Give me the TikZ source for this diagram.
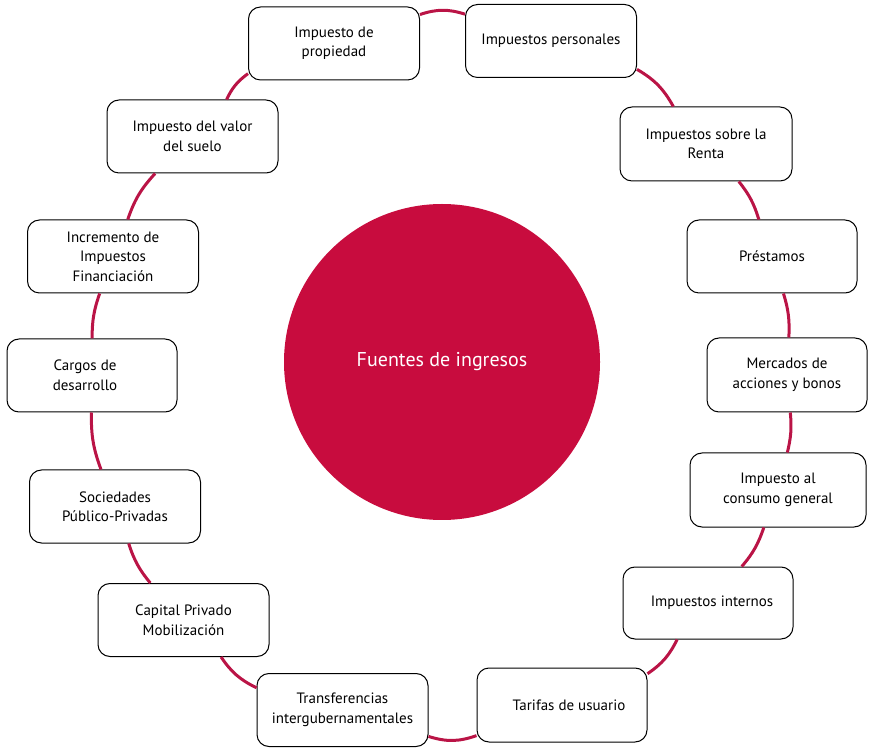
\documentclass[tikz,border=0pt]{standalone}
\usepackage{fontspec}
\setmainfont{PT Sans}
\definecolor{crim}{RGB}{200,12,62}
\definecolor{ringc}{RGB}{186,20,70}
\begin{document}
\begin{tikzpicture}[x=1pt,y=1pt,
  box/.style={draw=black, line width=1pt, fill=white, rounded corners=12pt,
    minimum width=171pt, minimum height=73pt, align=center,
    font=\fontsize{15}{19.5}\selectfont, inner sep=2pt},
  ring/.style={draw=ringc, line width=3pt}]
\useasboundingbox (0,0) rectangle (869,747);
\node[circle, fill=crim, minimum size=316pt, inner sep=0pt, text=white,
  font=\fontsize{20}{24}\selectfont] (c) at (442,385) {Fuentes de ingresos};
\node[box] (n1) at (334,703.5) {Impuesto de\\propiedad};
\node[box] (n2) at (551,706) {Impuestos personales};
\node[box] (n3) at (192.5,610.5) {Impuesto del valor\\del suelo};
\node[box] (n4) at (113,490.5) {Incremento de\\Impuestos\\Financiación};
\node[box, minimum width=170pt] (n5) at (92,371.5) {Cargos de\hspace*{14pt}\\desarrollo\hspace*{14pt}};
\node[box] (n6) at (115,240.5) {Sociedades\\Público-Privadas};
\node[box] (n7) at (183.5,127) {Capital Privado\\Mobilización};
\node[box] (n8) at (342.5,37) {Transferencias\\intergubernamentales};
\node[box, minimum width=170pt, minimum height=74pt] (n9) at (562,42) {\hspace*{14pt}Tarifas de usuario};
\node[box, minimum width=170pt, minimum height=72pt] (n10) at (708,144) {\hspace*{8pt}Impuestos internos};
\node[box, minimum width=176pt, minimum height=74pt] (n11) at (778,257) {Impuesto al\\consumo general};
\node[box, minimum width=160pt, minimum height=74pt] (n12) at (787,372) {Mercados de\\acciones y bonos};
\node[box, minimum width=170pt] (n13) at (772,490.5) {Préstamos};
\node[box, minimum width=172pt, minimum height=74pt] (n14) at (706,603) {Impuestos sobre la\\Renta};
\draw[ring] (n1) to[bend left=18] (n2);
\draw[ring] (n2) to[bend left=15.3] (n14);
\draw[ring] (n14) to[bend left=10.8] (n13);
\draw[ring] (n13) to[bend left=10] (n12);
\draw[ring] (n12) to[bend left=9.5] (n11);
\draw[ring] (n11) to[bend left=11] (n10);
\draw[ring] (n10) to[bend left=14.8] (n9);
\draw[ring] (n9) to[bend left=18.4] (n8);
\draw[ring] (n8) to[bend left=15] (n7);
\draw[ring] (n7) to[bend left=10.8] (n6);
\draw[ring] (n6) to[bend left=10.8] (n5);
\draw[ring] (n5) to[bend left=9.8] (n4);
\draw[ring] (n4) to[bend left=11.8] (n3);
\draw[ring] (n3) to[bend left=14] (n1);
\end{tikzpicture}
\end{document}
